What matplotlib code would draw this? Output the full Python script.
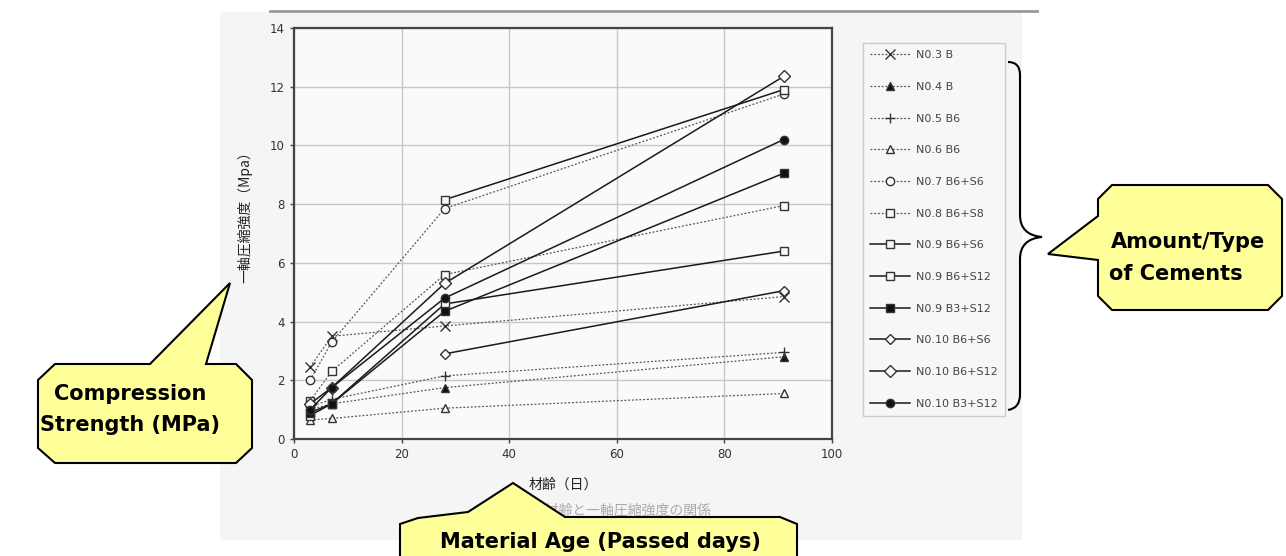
import numpy as np
import matplotlib
matplotlib.use("Agg")
import matplotlib.pyplot as plt
from matplotlib.patches import Polygon, Rectangle, PathPatch
from matplotlib.path import Path
from matplotlib.lines import Line2D

W, H = 1286, 556
JP = ["Noto Sans CJK JP", "DejaVu Sans"]

days = [3, 7, 28, 91]
labels = ["N0.3 B", "N0.4 B", "N0.5 B6", "N0.6 B6", "N0.7 B6+S6", "N0.8 B6+S8",
          "N0.9 B6+S6", "N0.9 B6+S12", "N0.9 B3+S12", "N0.10 B6+S6",
          "N0.10 B6+S12", "N0.10 B3+S12"]
no3_b = [2.45, 3.5, 3.85, 4.85]
no4_b = [1.0, 1.2, 1.75, 2.8]
no5_b6 = [1.1, 1.35, 2.15, 2.95]
no6_b6 = [0.65, 0.7, 1.05, 1.55]
no7_b6s6 = [2.0, 3.3, 7.85, 11.75]
no8_b6s8 = [1.3, 2.3, 5.6, 7.95]
no9_b6s6 = [0.8, 1.2, 4.6, 6.4]
no9_b6s12 = [np.nan, np.nan, 8.15, 11.9]
no9_b3s12 = [0.9, 1.2, 4.35, 9.05]
no10_b6s6 = [np.nan, np.nan, 2.9, 5.05]
no10_b6s12 = [1.2, 1.75, 5.3, 12.35]
no10_b3s12 = [1.0, 1.75, 4.8, 10.2]
series = [no3_b, no4_b, no5_b6, no6_b6, no7_b6s6, no8_b6s8, no9_b6s6,
          no9_b6s12, no9_b3s12, no10_b6s6, no10_b6s12, no10_b3s12]

# marker, filled, dotted
styles = [("x", False, True), ("^", True, True), ("+", False, True),
          ("^", False, True), ("o", False, True), ("s", False, True),
          ("s", False, False), ("s", False, False), ("s", True, False),
          ("D", False, False), ("D", False, False), ("o", True, False)]


def fx(px):
    return px / W


def fy(py):
    return 1 - py / H


fig = plt.figure(figsize=(W / 100, H / 100), dpi=100, facecolor="white")

# scanned chart background
fig.add_artist(Rectangle((fx(220), fy(540)), fx(1022) - fx(220), fy(12) - fy(540),
                         transform=fig.transFigure, facecolor="#f5f5f5",
                         edgecolor="none", zorder=0))
fig.add_artist(Line2D([fx(270), fx(1037)], [fy(11), fy(11)], transform=fig.transFigure,
                      color="#999999", lw=2, zorder=1))

ax = fig.add_axes([fx(294), fy(439), fx(832) - fx(294), fy(28) - fy(439)])
ax.set_facecolor("#fafafa")
handles = []
for vals, lab, (mk, filled, dotted) in zip(series, labels, styles):
    ms = 7 if mk in ("x", "+") else 6
    if lab == "N0.10 B6+S6":
        ms = 5
    h, = ax.plot(days, vals, marker=mk, ms=ms,
                 color="#555555" if dotted else "#1a1a1a",
                 ls=(0, (1.5, 1.5)) if dotted else "-",
                 lw=0.9 if dotted else 1.1,
                 mfc="#111111" if filled else "#fafafa",
                 mec="#333333", mew=1.0, label=lab, zorder=3)
    handles.append(h)

ax.set_xlim(0, 100)
ax.set_ylim(0, 14)
ax.set_xticks(range(0, 101, 20))
ax.set_yticks(range(0, 15, 2))
ax.grid(True, color="#c8c8c8", lw=1.0)
ax.set_axisbelow(True)
for s in ax.spines.values():
    s.set_color("#444444")
    s.set_linewidth(1.6)
ax.tick_params(direction="out", length=3, width=1, colors="#444444",
               labelsize=8.5, labelcolor="#333333")

fig.text(fx(245), fy(214), "一軸圧縮強度（Mpa）", rotation=90, ha="center",
         va="center", fontsize=10, family=JP, color="#222222")
fig.text(fx(563), fy(485), "材齢（日）", ha="center", va="center",
         fontsize=10, family=JP, color="#222222")
fig.text(fx(600), fy(511), "図－７　材齢と一軸圧縮強度の関係", ha="center",
         va="center", fontsize=10, family=JP, color="#aaaaaa", zorder=1)

leg = fig.legend(handles=handles, loc="upper left",
                 bbox_to_anchor=(fx(857), fy(37)), fontsize=8,
                 labelspacing=1.95, handlelength=3.6, handletextpad=0.5,
                 borderpad=0.7, fancybox=False, edgecolor="#cccccc",
                 facecolor="#f7f7f7", framealpha=1)
for t in leg.get_texts():
    t.set_color("#444444")

# curly brace
verts = [(1008, 62), (1020, 62), (1020, 75), (1020, 90),
         (1020, 215), (1020, 235), (1042, 237),
         (1020, 239), (1020, 259),
         (1020, 395), (1020, 408), (1008, 410)]
codes = [Path.MOVETO, Path.CURVE3, Path.CURVE3, Path.LINETO,
         Path.LINETO, Path.CURVE3, Path.CURVE3,
         Path.CURVE3, Path.CURVE3,
         Path.LINETO, Path.CURVE3, Path.CURVE3]
brace = Path([(fx(x), fy(y)) for x, y in verts], codes)
fig.add_artist(PathPatch(brace, transform=fig.transFigure, facecolor="none",
                         edgecolor="black", lw=1.5, zorder=5))

# callouts
yellow = "#ffff99"
callouts = [
    [(55, 364), (150, 364), (230, 283), (206, 364), (236, 364), (252, 380),
     (252, 448), (236, 463), (55, 463), (38, 448), (38, 380)],
    [(1112, 185), (1268, 185), (1282, 199), (1282, 296), (1268, 310),
     (1112, 310), (1098, 296), (1098, 260), (1048, 254), (1098, 216),
     (1098, 199)],
    [(418, 518), (468, 512), (513, 483), (565, 517), (780, 517), (797, 524),
     (797, 580), (400, 580), (400, 524)],
]
for pts in callouts:
    fig.add_artist(Polygon([(fx(x), fy(y)) for x, y in pts], closed=True,
                           transform=fig.transFigure, facecolor=yellow,
                           edgecolor="black", lw=1.5, zorder=6))

bold = dict(fontsize=15, fontweight="bold", family="DejaVu Sans",
            ha="center", va="center", zorder=7, color="black")
fig.text(fx(130), fy(394), "Compression", **bold)
fig.text(fx(130), fy(425), "Strength (MPa)", **bold)
fig.text(fx(1188), fy(242), "Amount/Type", **bold)
fig.text(fx(1176), fy(274), "of Cements", **bold)
fig.text(fx(600), fy(542), "Material Age (Passed days)", **bold)

fig.savefig("out.png", dpi=100, facecolor="white")
